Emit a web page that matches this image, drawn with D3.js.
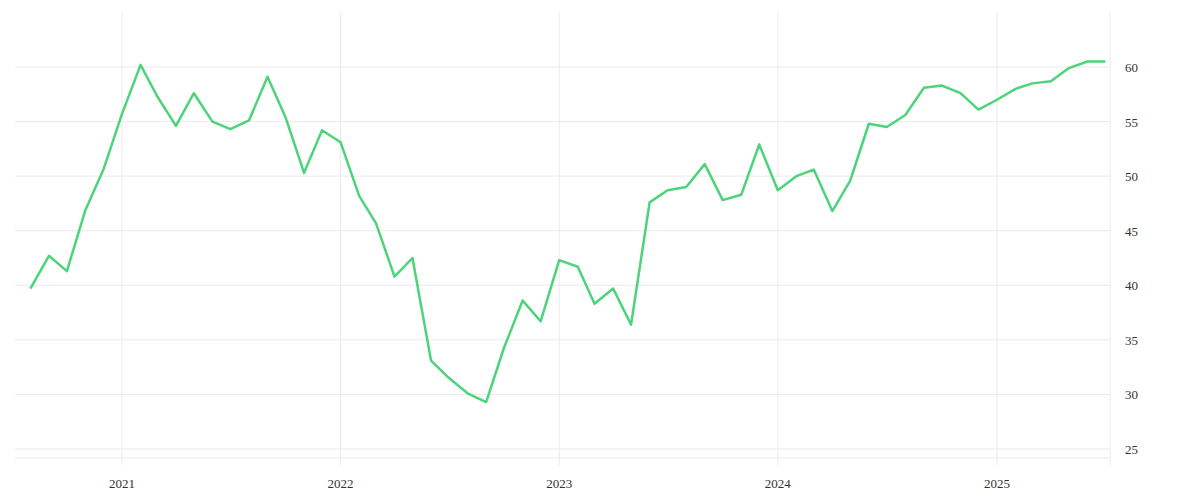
<!DOCTYPE html><html><head><meta charset="utf-8">
<script src="https://cdn.jsdelivr.net/npm/d3@7"></script>
<style>body{margin:0;background:#fff}</style></head><body><svg id="c" width="1200" height="500"></svg>
<script>
const startMonth = "2020-08";
const values = [39.7,42.7,41.3,46.9,50.6,55.7,60.2,57.3,54.6,57.6,55.0,54.3,55.1,59.1,55.4,50.3,54.2,53.1,48.2,45.7,40.8,42.5,33.1,31.5,30.1,29.3,34.3,38.6,36.7,42.3,41.7,38.3,39.7,36.4,47.6,48.7,49.0,51.1,47.8,48.3,52.9,48.7,50.0,50.6,46.8,49.6,54.8,54.5,55.6,58.1,58.3,57.6,56.1,57.0,58.0,58.5,58.7,59.9,60.5,60.5];
const yTicks = [25,30,35,40,45,50,55,60];
const xTickYears = [2021,2022,2023,2024,2025];
const [sy, sm] = startMonth.split("-").map(Number);
const data = values.map((v,i)=>({d:new Date(sy, sm-1+i, 1), v}));
const svg = d3.select("#c");
const L=15,R=1110,T=12,B=458;
const x = d3.scaleTime().domain([new Date(2020,2,1), new Date(2025,7,1)]).range([L-220*0+ (L), R]);
// calibrate: 2021 -> 122, 2025 -> 997
const x2 = d3.scaleTime().domain([new Date(2021,0,1), new Date(2025,0,1)]).range([122,997]);
const y = d3.scaleLinear().domain([25,60]).range([449,67]);
const g = svg.append("g");
g.selectAll(".hg").data(yTicks).join("line").attr("x1",L).attr("x2",R).attr("y1",d=>y(d)).attr("y2",d=>y(d)).attr("stroke","#ebebeb");
g.append("line").attr("x1",L).attr("x2",R).attr("y1",B).attr("y2",B).attr("stroke","#ebebeb");
g.selectAll(".vg").data(xTickYears).join("line").attr("x1",d=>x2(new Date(d,0,1))).attr("x2",d=>x2(new Date(d,0,1))).attr("y1",T).attr("y2",465).attr("stroke","#ebebeb");
g.append("line").attr("x1",R).attr("x2",R).attr("y1",T).attr("y2",465).attr("stroke","#ebebeb");
const font="'Liberation Serif', serif";
g.selectAll(".yl").data(yTicks).join("text").attr("x",1125).attr("y",d=>y(d)+5).text(d=>d).attr("font-family",font).attr("font-size",13).attr("fill","#333");
g.selectAll(".xl").data(xTickYears).join("text").attr("x",d=>x2(new Date(d,0,1))).attr("y",488).attr("text-anchor","middle").text(d=>d).attr("font-family",font).attr("font-size",13).attr("fill","#333");
svg.append("path").datum(data).attr("fill","none").attr("stroke","#4cd47a").attr("stroke-width",2.5).attr("stroke-linejoin","round")
 .attr("d",d3.line().x(d=>x2(d.d)).y(d=>y(d.v)));
</script></body></html>
